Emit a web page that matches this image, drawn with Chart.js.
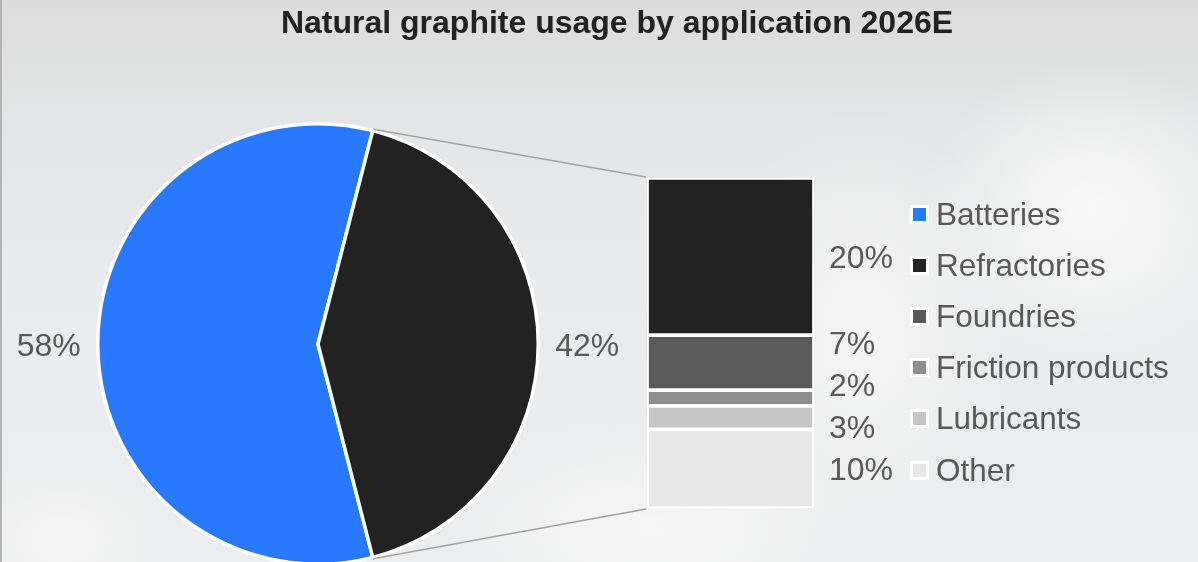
<!DOCTYPE html>
<html>
<head>
<meta charset="utf-8">
<script src="https://cdn.jsdelivr.net/npm/chart.js@4.4.0/dist/chart.umd.min.js"></script>
<style>
  html, body { margin: 0; padding: 0; }
  #wrap {
    position: relative; width: 1198px; height: 562px; overflow: hidden;
    box-sizing: border-box; border-left: 2px solid #b4b4b4;
    font-family: "Liberation Sans", Arial, sans-serif;
    background:
      radial-gradient(ellipse 170px 150px at 1090px 210px, rgba(250,250,250,0.95), rgba(250,250,250,0)),
      radial-gradient(ellipse 150px 220px at 860px 330px, rgba(247,247,247,0.8), rgba(247,247,247,0)),
      radial-gradient(ellipse 220px 110px at 650px 530px, rgba(248,248,248,0.85), rgba(248,248,248,0)),
      radial-gradient(ellipse 120px 90px at 60px 540px, rgba(246,246,246,0.8), rgba(246,246,246,0)),
      linear-gradient(180deg, #dcdcdc 0%, #e4e5e6 22%, #eaebec 50%, #ecedee 100%);
  }
  #wrap canvas { position: absolute; left: -2px; top: 0; }
  .title {
    position: absolute; left: 615px; top: 6px; transform: translateX(-50%);
    font-size: 32px; line-height: 32px; font-weight: bold; color: #222; white-space: nowrap;
  }
  #legend { position: absolute; left: 908px; top: 188.5px; }
  .item { display: flex; align-items: center; height: 51.2px; }
  .box { width: 13px; height: 13px; border: 3px solid #fff; margin-right: 7px; }
  .txt { font-size: 31.5px; color: #595959; white-space: nowrap; }
</style>
</head>
<body>
<div id="wrap">
  <canvas id="pie" width="1198" height="580"></canvas>
  <canvas id="bar" width="1198" height="580"></canvas>
  <div class="title">Natural graphite usage by application 2026E</div>
  <div id="legend"></div>
</div>
<script>
// pie: batteries vs. everything else
const pieLabels = ["Batteries", "Other applications"];
const pieValues = [58, 42];
const pieColors = ["#2979ff", "#222222"];

// breakdown of the non-battery share
const barLabels = ["Refractories", "Foundries", "Friction products", "Lubricants", "Other"];
const barValues = [20, 7, 2, 3, 10];
const barColors = ["#222222", "#5a5a5a", "#8e8e8e", "#c6c6c6", "#e8e8e8"];

const legendLabels = [pieLabels[0]].concat(barLabels);
const legendColors = [pieColors[0]].concat(barColors);

const labelFont = '32px "Liberation Sans", Arial, sans-serif';
const labelColor = "#595959";
const pieTotal = pieValues.reduce((a, b) => a + b, 0);
const barTotal = barValues.reduce((a, b) => a + b, 0);

const pieLabelPlugin = {
  id: "pieLabels",
  afterDatasetsDraw(chart) {
    const ctx = chart.ctx;
    ctx.save();
    ctx.font = labelFont;
    ctx.fillStyle = labelColor;
    ctx.textAlign = "center";
    ctx.textBaseline = "alphabetic";
    chart.getDatasetMeta(0).data.forEach((arc, i) => {
      const mid = (arc.startAngle + arc.endAngle) / 2;
      const r = arc.outerRadius + 49;
      const x = arc.x + Math.cos(mid) * r;
      const y = arc.y + Math.sin(mid) * r;
      ctx.fillText(pieValues[i] + "%", x, y + 11.5);
    });
    ctx.restore();
  }
};

const pieChart = new Chart(document.getElementById("pie"), {
  type: "pie",
  data: {
    labels: pieLabels,
    datasets: [{
      data: pieValues,
      backgroundColor: pieColors,
      borderColor: "#ffffff",
      borderWidth: 3.5
    }]
  },
  options: {
    responsive: false,
    animation: false,
    rotation: 90 + pieValues[1] / pieTotal * 180,
    layout: { padding: { left: 96, right: 658, top: 122, bottom: 14 } },
    plugins: { legend: { display: false }, tooltip: { enabled: false } }
  },
  plugins: [pieLabelPlugin]
});

const barExtras = {
  id: "barExtras",
  beforeDatasetsDraw(chart) {
    // connector lines from the dark slice to the bar
    const arc = pieChart.getDatasetMeta(0).data[1];
    const ys = chart.scales.y;
    const left = chart.chartArea.left - 1;
    const top = ys.getPixelForValue(0) - 1;
    const bottom = ys.getPixelForValue(barTotal) + 1;
    const r = arc.outerRadius + 1.5;
    const ctx = chart.ctx;
    ctx.save();
    ctx.strokeStyle = "#a3a3a3";
    ctx.lineWidth = 1.5;
    ctx.beginPath();
    ctx.moveTo(arc.x + Math.cos(arc.startAngle) * r, arc.y + Math.sin(arc.startAngle) * r);
    ctx.lineTo(left, top);
    ctx.moveTo(arc.x + Math.cos(arc.endAngle) * r, arc.y + Math.sin(arc.endAngle) * r);
    ctx.lineTo(left, bottom);
    ctx.stroke();
    ctx.restore();
  },
  afterDatasetsDraw(chart) {
    const gap = 42;
    const items = barValues.map((v, i) => {
      const el = chart.getDatasetMeta(i).data[0];
      return { i, v, y: (el.y + el.base) / 2, ly: 0 };
    });
    const place = g => {
      let a = 0;
      g.forEach((it, k) => { if (it.v > g[a].v) a = k; });
      g.forEach((it, k) => { it.ly = g[a].y + (k - a) * gap; });
    };
    let groups = items.map(it => [it]);
    groups.forEach(place);
    let merged = true;
    while (merged) {
      merged = false;
      for (let k = 0; k < groups.length - 1; k++) {
        const a = groups[k], b = groups[k + 1];
        if (b[0].ly - a[a.length - 1].ly < gap) {
          const g = a.concat(b);
          place(g);
          groups.splice(k, 2, g);
          merged = true;
          break;
        }
      }
    }
    const ctx = chart.ctx;
    ctx.save();
    ctx.font = labelFont;
    ctx.fillStyle = labelColor;
    ctx.textAlign = "left";
    ctx.textBaseline = "alphabetic";
    items.forEach(it => {
      ctx.fillText(barValues[it.i] + "%", chart.chartArea.right + 15, it.ly + 11.5);
    });
    ctx.restore();
  }
};

new Chart(document.getElementById("bar"), {
  type: "bar",
  data: {
    labels: [""],
    datasets: barLabels.map((lab, i) => ({
      label: lab,
      data: [barValues[i]],
      backgroundColor: barColors[i],
      borderColor: "#ffffff",
      borderWidth: 2.2,
      borderSkipped: false,
      barPercentage: 1,
      categoryPercentage: 1
    }))
  },
  options: {
    responsive: false,
    animation: false,
    layout: { padding: { left: 647, right: 384, top: 178, bottom: 72 } },
    scales: {
      x: { stacked: true, display: false },
      y: { stacked: true, display: false, reverse: true, min: 0, max: barTotal }
    },
    plugins: { legend: { display: false }, tooltip: { enabled: false } }
  },
  plugins: [barExtras]
});

const legend = document.getElementById("legend");
legendLabels.forEach((lab, i) => {
  const item = document.createElement("div");
  item.className = "item";
  const box = document.createElement("div");
  box.className = "box";
  box.style.background = legendColors[i];
  const txt = document.createElement("span");
  txt.className = "txt";
  txt.textContent = lab;
  item.appendChild(box);
  item.appendChild(txt);
  legend.appendChild(item);
});
</script>
</body>
</html>
